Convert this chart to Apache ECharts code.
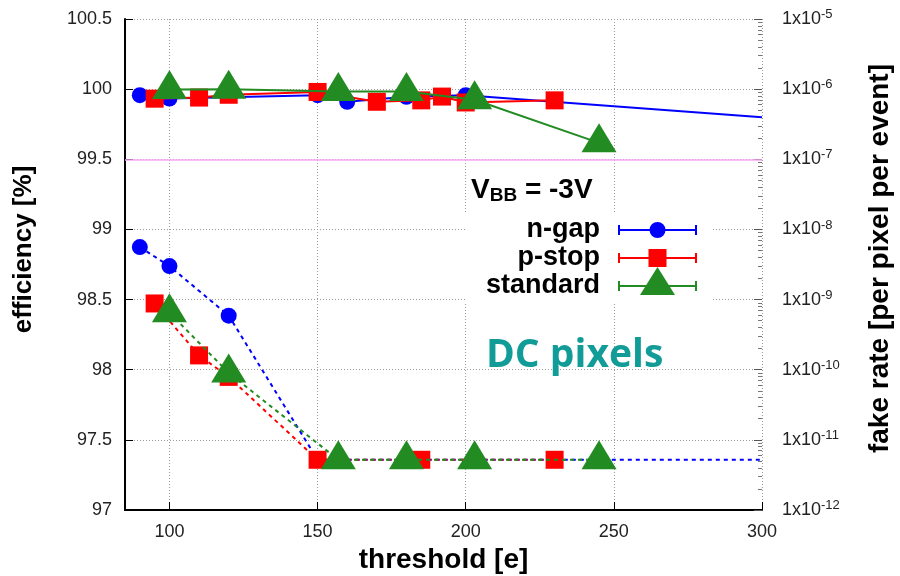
<!DOCTYPE html>
<html>
<head>
<meta charset="utf-8">
<script src="https://cdn.jsdelivr.net/npm/echarts@6/dist/echarts.min.js"></script>
<style>
  html, body { margin: 0; padding: 0; background: #ffffff; }
  #chart { width: 900px; height: 576px; }
</style>
</head>
<body>
<div id="chart"></div>
<script>
// ---- Efficiency [%] vs. threshold [e] (solid lines, left axis) ----
const ngapThreshold     = [90, 100, 150, 160, 180, 200, 300];
const ngapEfficiency    = [99.957, 99.933, 99.957, 99.91, 99.945, 99.957, 99.80];
const pstopThreshold    = [95, 110, 120, 150, 170, 185, 192, 200, 230];
const pstopEfficiency   = [99.932, 99.94, 99.96, 99.98, 99.91, 99.92, 99.947, 99.905, 99.92];
const standardThreshold = [100, 120, 157, 180, 203, 245];
const standardEfficiency = [99.997, 100.0, 99.983, 99.983, 99.924, 99.617];

// ---- Fake rate [per pixel per event] vs. threshold (dashed lines, right log axis) ----
const ngapDcThreshold     = [90, 100, 120, 150, 300];
const ngapFakeRate        = [5.6e-9, 3.0e-9, 5.9e-10, 5.2e-12, 5.2e-12];
const pstopDcThreshold    = [95, 110, 120, 150, 185, 230];
const pstopFakeRate       = [8.8e-10, 1.6e-10, 7.9e-11, 5.2e-12, 5.2e-12, 5.2e-12];
const standardDcThreshold = [100, 120, 157, 180, 203, 245];
const standardFakeRate    = [6.5e-10, 9.0e-11, 5.2e-12, 5.2e-12, 5.2e-12, 5.2e-12];

// Reference line and axis ranges
const efficiencyRequirement = 99.5;
const efficiencyRange = [97, 100.5];
const fakeRateRange = [1e-12, 1e-5];
const thresholdRange = [85, 300];
const fakeRateMinorTicks = [];
for (let e = -12; e < -5; e++) {
  for (let m = 2; m <= 9; m++) fakeRateMinorTicks.push(m * Math.pow(10, e));
}

const BLUE = '#0000ff', RED = '#ff0000', GREEN = '#228b22';
const FONT = 'Liberation Sans';

// Pair up x/y arrays; the final open-ended point of a series can be drawn without marker
function pairs(xs, ys, lastHidden) {
  return xs.map((x, i) => {
    if (lastHidden && i === xs.length - 1) return { value: [x, ys[i]], symbol: 'none' };
    return [x, ys[i]];
  });
}

// Key icons: horizontal error-bar style sample with a point marker in the middle
function keyIcon(marker) {
  const cx = 52.5, cy = 20;
  let p = 'M0,0 L0,0 M92,40 L92,40 ';
  p += 'M13,19 L92,19 L92,21 L13,21 Z ';
  p += 'M13,15 L15,15 L15,25 L13,25 Z M90,15 L92,15 L92,25 L90,25 Z ';
  if (marker === 'circle') {
    p += `M${cx - 8},${cy} A8,8 0 1,1 ${cx + 8},${cy} A8,8 0 1,1 ${cx - 8},${cy} Z`;
  } else if (marker === 'square') {
    p += `M${cx - 9},${cy - 9} L${cx + 9},${cy - 9} L${cx + 9},${cy + 9} L${cx - 9},${cy + 9} Z`;
  } else {
    p += `M${cx},1 L${cx + 17.5},29 L${cx - 17.5},29 Z`;
  }
  return 'path://' + p;
}

function keyLegend(name, marker, top) {
  return {
    data: [{ name: name, icon: keyIcon(marker) }],
    orient: 'vertical',
    right: 203,
    top: top,
    padding: 0,
    itemWidth: 92,
    itemHeight: 40,
    align: 'right',
    selectedMode: false,
    itemStyle: { borderWidth: 0 },
    textStyle: { fontFamily: FONT, fontSize: 27, fontWeight: 'bold', color: '#000' }
  };
}

const dotted = { color: '#9a9a9a', width: 1, type: [1, 2] };
const triSize = [35, 29];
const triOffset = [0, -5];

const chart = echarts.init(document.getElementById('chart'), null, { renderer: 'canvas' });

chart.setOption({
  backgroundColor: '#ffffff',
  animation: false,
  grid: { left: 125, right: 138, top: 19, bottom: 66, containLabel: false, outerBoundsMode: 'none' },
  legend: [
    keyLegend('n-gap', 'circle', 210),
    keyLegend('p-stop', 'square', 238),
    keyLegend('standard', 'triangle', 266)
  ],
  xAxis: {
    type: 'value',
    min: thresholdRange[0],
    max: thresholdRange[1],
    splitNumber: 5,
    name: 'threshold [e]',
    nameLocation: 'middle',
    nameGap: 31,
    nameTextStyle: { fontFamily: FONT, fontSize: 28, fontWeight: 'bold', color: '#000' },
    axisLine: { show: true, onZero: false, lineStyle: { color: '#000', width: 2 } },
    axisTick: { show: true, inside: true, length: 8, lineStyle: { color: '#000', width: 1 } },
    axisLabel: { showMinLabel: false, margin: 13, fontFamily: FONT, fontSize: 18, color: '#222' },
    splitLine: { show: true, lineStyle: dotted }
  },
  yAxis: [
    {
      type: 'value',
      position: 'left',
      min: efficiencyRange[0],
      max: efficiencyRange[1],
      interval: 0.5,
      name: 'efficiency [%]',
      nameLocation: 'middle',
      nameGap: 88,
      nameTextStyle: { fontFamily: FONT, fontSize: 26, fontWeight: 'bold', color: '#000', padding: [0, 0, 0, 30] },
      axisLine: { show: true, onZero: false, lineStyle: { color: '#000', width: 2 } },
      axisTick: { show: true, inside: true, length: 8, lineStyle: { color: '#000', width: 1 } },
      axisLabel: { margin: 13, fontFamily: FONT, fontSize: 18, color: '#222' },
      splitLine: { show: true, lineStyle: dotted }
    },
    {
      type: 'log',
      logBase: 10,
      position: 'right',
      min: fakeRateRange[0],
      max: fakeRateRange[1],
      interval: 1,
      name: 'fake rate [per pixel per event]',
      nameLocation: 'middle',
      nameGap: 104,
      nameTextStyle: { fontFamily: FONT, fontSize: 28, fontWeight: 'bold', color: '#000', padding: [0, 0, 0, 12] },
      axisLine: { show: false },
      axisTick: { show: true, inside: true, length: 8, lineStyle: { color: '#555', width: 1 } },
      axisLabel: {
        margin: 20,
        formatter: function (v) {
          const e = Math.round(Math.log10(v));
          return '{b|1x10}{s|' + e + '}';
        },
        rich: {
          b: { fontFamily: FONT, fontSize: 18, color: '#222', lineHeight: 22, verticalAlign: 'middle' },
          s: { fontFamily: FONT, fontSize: 13, color: '#222', lineHeight: 11, verticalAlign: 'top' }
        }
      },
      splitLine: { show: false }
    },
    {
      type: 'log',
      logBase: 10,
      position: 'right',
      min: fakeRateRange[0],
      max: fakeRateRange[1],
      axisLine: { show: false },
      axisLabel: { show: false },
      axisTick: { show: true, inside: true, length: 4, customValues: fakeRateMinorTicks, lineStyle: { color: '#777', width: 1 } },
      splitLine: { show: false }
    }
  ],
  graphic: [
    { type: 'rect', silent: true, z: 1, shape: { x: 465, y: 213, width: 247, height: 90 }, style: { fill: '#ffffff' } },
    {
      type: 'text', silent: true, z: 5, left: 471, top: 176,
      style: {
        text: '{v|V}{s|BB}{v| = -3V}',
        rich: {
          v: { fontFamily: FONT, fontSize: 28, fontWeight: 'bold', fill: '#000', lineHeight: 30, verticalAlign: 'middle' },
          s: { fontFamily: FONT, fontSize: 19, fontWeight: 'bold', fill: '#000', lineHeight: 12, verticalAlign: 'bottom' }
        }
      }
    },
    {
      type: 'text', silent: true, z: 5, left: 486, top: 336,
      style: { text: 'DC pixels', fontFamily: 'Open Sans', fontSize: 39, fontWeight: 'bold', fill: '#129c98' }
    }
  ],
  series: [
    {
      name: 'n-gap', type: 'line', yAxisIndex: 0, z: 2,
      data: pairs(ngapThreshold, ngapEfficiency, true),
      symbol: 'circle', symbolSize: 16,
      itemStyle: { color: BLUE }, lineStyle: { color: BLUE, width: 2 },
      markLine: {
        silent: true, symbol: 'none', label: { show: false },
        lineStyle: { color: '#f7a6f7', width: 1.5, type: 'solid' },
        data: [{ yAxis: efficiencyRequirement }]
      }
    },
    {
      name: 'p-stop', type: 'line', yAxisIndex: 0, z: 3,
      data: pairs(pstopThreshold, pstopEfficiency, false),
      symbol: 'rect', symbolSize: 18,
      itemStyle: { color: RED }, lineStyle: { color: RED, width: 2 }
    },
    {
      name: 'standard', type: 'line', yAxisIndex: 0, z: 4,
      data: pairs(standardThreshold, standardEfficiency, false),
      symbol: 'triangle', symbolSize: triSize, symbolOffset: triOffset,
      itemStyle: { color: GREEN }, lineStyle: { color: GREEN, width: 2 }
    },
    {
      name: 'n-gap DC', type: 'line', yAxisIndex: 1, z: 2,
      data: pairs(ngapDcThreshold, ngapFakeRate, true),
      symbol: 'circle', symbolSize: 16,
      itemStyle: { color: BLUE }, lineStyle: { color: BLUE, width: 2, type: [4, 4] }
    },
    {
      name: 'p-stop DC', type: 'line', yAxisIndex: 1, z: 3,
      data: pairs(pstopDcThreshold, pstopFakeRate, false),
      symbol: 'rect', symbolSize: 18,
      itemStyle: { color: RED }, lineStyle: { color: RED, width: 2, type: [4, 4] }
    },
    {
      name: 'standard DC', type: 'line', yAxisIndex: 1, z: 4,
      data: pairs(standardDcThreshold, standardFakeRate, false),
      symbol: 'triangle', symbolSize: triSize, symbolOffset: triOffset,
      itemStyle: { color: GREEN }, lineStyle: { color: GREEN, width: 2, type: [4, 4] }
    }
  ]
});
</script>
</body>
</html>
